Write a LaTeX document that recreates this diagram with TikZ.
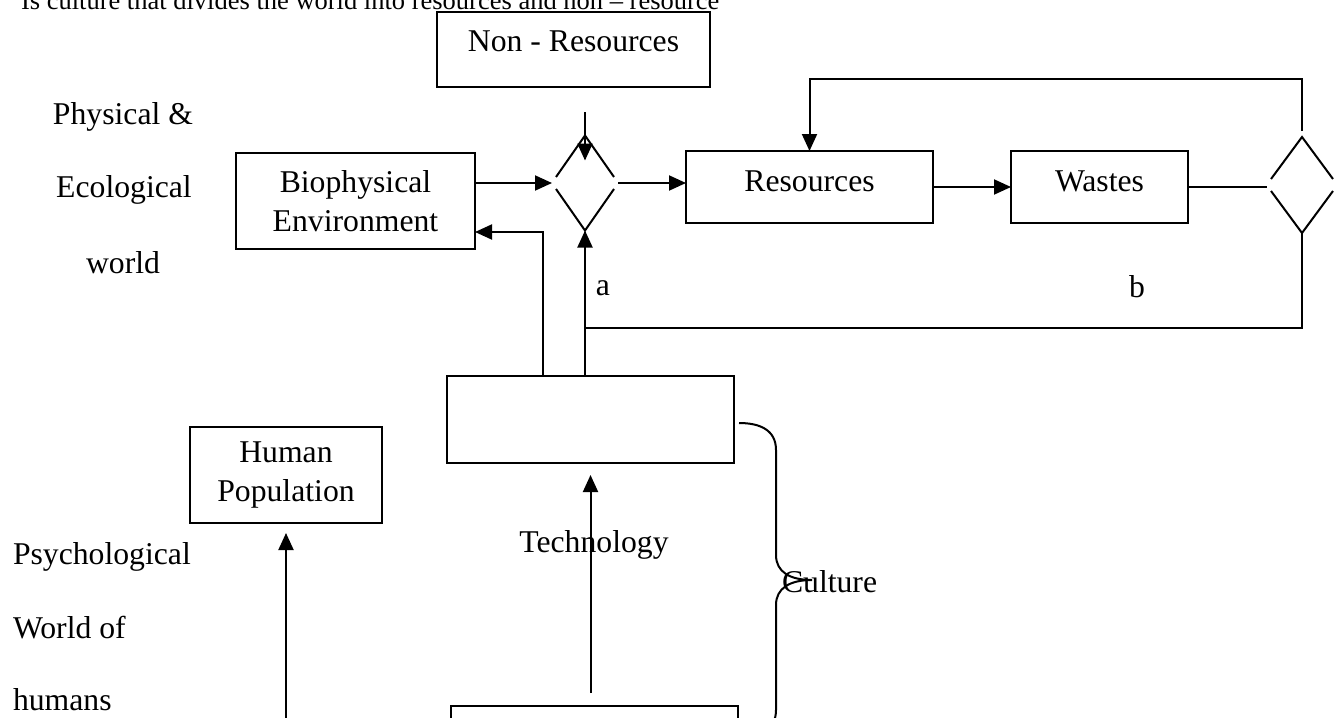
\documentclass[tikz,border=0pt]{standalone}
\usepackage{fontspec}
\setmainfont{Liberation Serif}
\usetikzlibrary{arrows.meta,shapes.geometric}

\begin{document}
\begin{tikzpicture}[x=1pt,y=-1pt,line width=2pt,font=\fontsize{31.7}{39}\selectfont,
box/.style={draw,rectangle,outer sep=0pt,align=center},
dia/.style={diamond,outer sep=0pt,inner sep=0pt},
lbl/.style={inner sep=0pt},
arr/.style={-{Triangle[length=17pt,width=15pt]}}]
\useasboundingbox (0,0) rectangle (1343,717);
\node[lbl,anchor=base west,font=\fontsize{26.5}{30}\selectfont] (ttl) at (20,10) {Is culture that divides the world into resources and non – resource};
\node[box,minimum width=273pt,minimum height=75pt,text depth=16pt] (nonres) at (573.5,49.5) {Non - Resources};
\node[lbl] (phy) at (123,117) {Physical \&};
\node[lbl] (eco) at (124,190) {Ecological};
\node[lbl] (wld) at (123,263) {world};
\node[box,minimum width=239pt,minimum height=96pt] (bio) at (355.5,201) {Biophysical\\Environment};
\node[dia,minimum width=66pt,minimum height=95pt] (d1) at (585,183) {};
\node[box,minimum width=247pt,minimum height=72pt,text depth=11pt] (res) at (809.5,187) {Resources};
\node[box,minimum width=177pt,minimum height=72pt,text depth=11pt] (wst) at (1099.5,187) {Wastes};
\node[dia,minimum width=70pt,minimum height=96pt] (d2) at (1302,185) {};
\node[lbl] (a) at (603,288) {a};
\node[lbl] (b) at (1137,287) {b};
\node[box,minimum width=287pt,minimum height=87pt] (tech) at (590.5,419.5) {};
\node[box,minimum width=192pt,minimum height=96pt] (hp) at (286,475) {Human\\Population};
\node[lbl] (tl) at (594,545) {Technology};
\node[lbl,anchor=west] (cl) at (781,582) {Culture};
\node[lbl,anchor=west] (psy) at (12,557) {Psychological};
\node[lbl,anchor=west] (wof) at (12,628) {World of};
\node[lbl,anchor=west] (hum) at (12,700) {humans};
\node[box,minimum width=287pt,minimum height=87pt] (bot) at (594.5,749.5) {};
\coordinate (nr) at (585,112);
\coordinate (fb) at (0,79);
\coordinate (jn) at (585,328);
\coordinate (bx) at (543,0);
\coordinate (hpin) at (286,760);
% diamonds, open at the side points
\foreach \d in {d1,d2}{
  \draw ([shift={(4pt,6pt)}]\d.west) -- (\d.north) -- ([shift={(-4pt,6pt)}]\d.east);
  \draw ([shift={(4pt,-6pt)}]\d.west) -- (\d.south) -- ([shift={(-4pt,-6pt)}]\d.east);
}
\draw[arr] (d1.west -| bio.east) -- (d1.west);
\draw[arr] (d1.east) -- (d1.east -| res.west);
\draw[arr] (res.east) -- (wst.west);
\draw (wst.east) -- (wst.east -| d2.west);
\draw[arr] (nr) -- ([yshift=-25pt]d1.north);
\draw[arr] (tech.north -| d1.south) -- (d1.south);
\draw[arr] (bx |- tech.north) |- ([yshift=-31pt]bio.east);
\draw[arr,shorten <=6pt] (d2.north) -- (d2.north |- fb) -| (res.north);
\draw (d2.south) |- (jn);
\draw[arr,shorten <=13pt,shorten >=12pt] (bot.north -| tech.south) -- (tech.south);
\draw[arr,shorten >=10pt] (hpin) -- (hp.south);
% brace
\draw (739,423) .. controls (760,423) and (776,430) .. (776,450) -- (776,555)
  .. controls (776,572) and (790,580) .. (812,580)
  .. controls (790,580) and (776,588) .. (776,605) -- (776,710)
  .. controls (776,730) and (760,737) .. (739,737);
\end{tikzpicture}
\end{document}
